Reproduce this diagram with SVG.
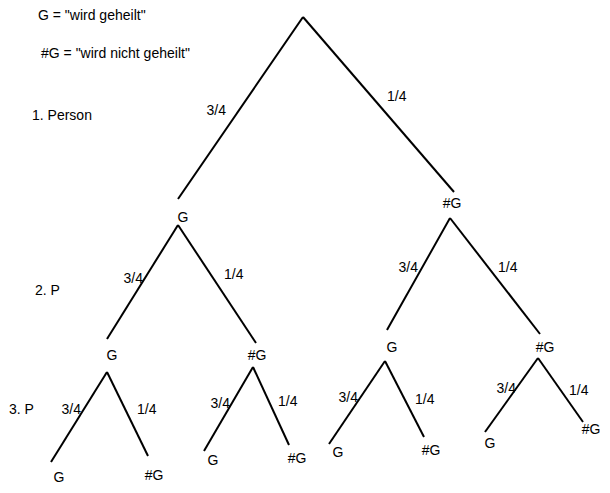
<svg xmlns="http://www.w3.org/2000/svg" width="610" height="493" viewBox="0 0 610 493">
<style>
text{font-family:"Liberation Sans",Arial,sans-serif;font-size:14px;fill:#000}
.c{text-anchor:middle}
.e{text-anchor:end}
#connectors line{stroke:#000;stroke-width:2;stroke-linecap:butt}
</style>
<rect width="610" height="493" fill="#fff"/>
<g id="legend">
<text x="38" y="20">G = "wird geheilt"</text>
<text x="41" y="58">#G = "wird nicht geheilt"</text>
<text x="32" y="120">1. Person</text>
<text x="35" y="295">2. P</text>
<text x="9" y="414">3. P</text>
</g>
<g id="connectors">
<line x1="303" y1="17" x2="178" y2="199"/>
<line x1="303" y1="17" x2="454" y2="192"/>
<line x1="178" y1="225" x2="107" y2="339"/>
<line x1="178" y1="225" x2="256" y2="343"/>
<line x1="450" y1="218" x2="387" y2="330"/>
<line x1="450" y1="218" x2="540" y2="334"/>
<line x1="107" y1="372" x2="51" y2="462"/>
<line x1="107" y1="372" x2="148" y2="456"/>
<line x1="253" y1="367" x2="204" y2="451"/>
<line x1="253" y1="367" x2="289" y2="445"/>
<line x1="385" y1="361" x2="329" y2="444"/>
<line x1="385" y1="361" x2="424" y2="437"/>
<line x1="538" y1="358" x2="485" y2="432"/>
<line x1="538" y1="358" x2="583" y2="422"/>
</g>
<g id="edge-labels">
<text class="e" x="226" y="115">3/4</text>
<text x="387" y="101">1/4</text>
<text class="e" x="143" y="283">3/4</text>
<text x="224" y="279">1/4</text>
<text class="e" x="418" y="272">3/4</text>
<text x="498" y="272">1/4</text>
<text class="e" x="81" y="414">3/4</text>
<text x="137" y="414">1/4</text>
<text class="e" x="230" y="408">3/4</text>
<text x="278" y="406">1/4</text>
<text class="e" x="358" y="402">3/4</text>
<text x="415" y="404">1/4</text>
<text class="e" x="516" y="393">3/4</text>
<text x="569" y="395">1/4</text>
</g>
<g id="n-root"></g>
<g id="n-g1"><text class="c" x="183" y="222">G</text></g>
<g id="n-ng1"><text class="c" x="452" y="208">#G</text></g>
<g id="n-g1-g"><text class="c" x="112" y="360">G</text></g>
<g id="n-g1-ng"><text class="c" x="257" y="360">#G</text></g>
<g id="n-ng1-g"><text class="c" x="392" y="352">G</text></g>
<g id="n-ng1-ng"><text class="c" x="545" y="352">#G</text></g>
<g id="n-a-g"><text class="c" x="59" y="482">G</text></g>
<g id="n-a-ng"><text class="c" x="154" y="480">#G</text></g>
<g id="n-b-g"><text class="c" x="213" y="465">G</text></g>
<g id="n-b-ng"><text class="c" x="297" y="463">#G</text></g>
<g id="n-c-g"><text class="c" x="338" y="457">G</text></g>
<g id="n-c-ng"><text class="c" x="431" y="455">#G</text></g>
<g id="n-d-g"><text class="c" x="490" y="448">G</text></g>
<g id="n-d-ng"><text class="c" x="591" y="434">#G</text></g>
</svg>
